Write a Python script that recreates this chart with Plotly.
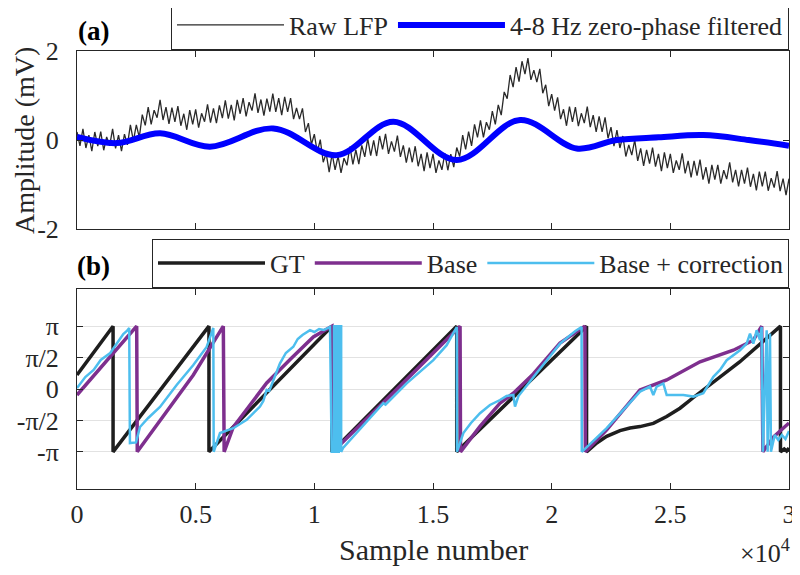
import numpy as np
import plotly.graph_objects as go

P = np.pi

# ---- panel (a): raw LFP, one value every 125 samples ----
raw_step = 125
raw_lfp = [
    0.18, -0.13, 0.25, -0.18, 0.11, -0.25, 0.18, -0.14,
    0.19, -0.23, 0.07, -0.13, 0.25, -0.19, 0.11, -0.25,
    0.13, -0.11, 0.34, -0.02, 0.34, 0.06, 0.57, 0.33,
    0.74, 0.35, 0.67, 0.50, 0.90, 0.45, 0.74, 0.36,
    0.73, 0.41, 0.76, 0.32, 0.59, 0.23, 0.67, 0.35,
    0.69, 0.28, 0.60, 0.41, 0.80, 0.39, 0.71, 0.38,
    0.78, 0.49, 0.89, 0.48, 0.79, 0.44, 0.90, 0.59,
    0.94, 0.53, 0.85, 0.66, 1.05, 0.61, 0.91, 0.55,
    0.93, 0.64, 1.04, 0.63, 0.94, 0.56, 0.97, 0.63,
    0.94, 0.47, 0.72, 0.47, 0.71, 0.18, 0.38, -0.10,
    0.13, -0.27, 0.01, -0.50, -0.30, -0.72, -0.31, -0.67,
    -0.36, -0.74, -0.41, -0.57, -0.15, -0.55, -0.22, -0.54,
    -0.12, -0.38, 0.03, -0.35, -0.01, -0.36, 0.09, -0.21,
    0.14, -0.31, -0.03, -0.26, 0.10, -0.38, -0.12, -0.51,
    -0.17, -0.50, -0.14, -0.59, -0.31, -0.70, -0.28, -0.63,
    -0.31, -0.74, -0.46, -0.67, -0.30, -0.68, -0.32, -0.61,
    -0.17, -0.37, 0.11, -0.21, 0.19, -0.13, 0.35, 0.06,
    0.44, 0.06, 0.40, 0.23, 0.65, 0.35, 0.79, 0.56,
    1.08, 0.93, 1.46, 1.19, 1.64, 1.31, 1.77, 1.48,
    1.84, 1.35, 1.57, 1.30, 1.60, 1.05, 1.24, 0.76,
    1.03, 0.66, 0.96, 0.47, 0.69, 0.32, 0.75, 0.41,
    0.74, 0.31, 0.60, 0.38, 0.75, 0.29, 0.56, 0.18,
    0.53, 0.18, 0.51, 0.04, 0.29, -0.14, 0.22, -0.18,
    0.09, -0.37, -0.11, -0.34, 0.00, -0.47, -0.19, -0.58,
    -0.22, -0.53, -0.17, -0.60, -0.31, -0.70, -0.28, -0.63,
    -0.31, -0.74, -0.46, -0.67, -0.30, -0.75, -0.47, -0.84,
    -0.47, -0.80, -0.44, -0.89, -0.61, -0.98, -0.56, -0.89,
    -0.56, -0.98, -0.68, -0.88, -0.50, -0.95, -0.67, -1.04,
    -0.67, -0.98, -0.62, -1.05, -0.76, -1.13, -0.71, -1.04,
    -0.71, -1.14, -0.86, -1.07, -0.70, -1.15, -0.87, -1.24,
    -0.87,
]
raw_x = np.arange(len(raw_lfp)) * raw_step

filt_x = [0, 1670, 3500, 5600, 8270, 10940, 13330, 16000, 18670, 21050,
          22740, 24500, 26390, 28300, 30000]
filt_y = [0.07, -0.07, 0.15, -0.15, 0.26, -0.34, 0.41, -0.45, 0.45, -0.19,
          0.0, 0.06, 0.11, 0.0, -0.13]

# ---- panel (b): phase ----
gt_x = [0, 1520, 1520, 5560, 5560, 10740, 10740, 16000, 16000, 21470, 21470,
        21900, 22318, 22879, 23300, 23722, 24283, 24846, 25407, 26000, 27920,
        29640, 29640, 29800, 29900, 30000]
gt_y = [0.7, P, -P, P, -P, P, -P, P, -P, P, -P,
        -2.7, -2.37, -2.08, -1.95, -1.88, -1.72, -1.38, -0.96, -0.4, 1.35,
        P, -P, -3.0, -3.1, -2.95]

base_x = [0, 2515, 2540, 3497, 4901, 6165, 6200, 6587, 7992, 9000, 9957,
          10740, 10780, 13400, 16140, 16160, 16980, 17823, 18385, 19227, 20351,
          21400, 21420, 22318, 23020, 23722, 24846, 26250, 27654, 28497, 28850,
          28900, 29350, 30000]
base_y = [-0.3, P, -P, -1.6, 0.7, P, -P, -1.9, 0.3, 1.5, 2.6,
          P, -P, -0.1, P, -P, -1.87, -0.71, -0.21, 0.75, 2.3,
          P, -P, -2.04, -1.04, -0.05, 0.45, 1.36, 1.94, 2.44, P,
          -P, -2.4, -1.7]

corr_x = [0, 350, 700, 1000, 1400, 1700, 1950, 2100, 2200, 2230, 2486, 2654,
          3000, 3497, 4199, 4901, 5463, 5744, 5760, 6025, 6587, 7149, 7711,
          7850, 7992, 8100, 8272, 8553, 8800, 9115, 9300, 9500, 9817, 10000,
          10200, 10400, 10660, 10730, 10830, 10830, 10930, 10930, 11030, 11030,
          11130, 11130, 11210, 11910, 12767, 12907, 13000, 13890, 15014, 15576,
          16000, 16010, 16279, 16600, 16980, 17400, 17823, 18100, 18385, 18455,
          18600, 18900, 19227, 19800, 20351, 21000, 21260, 21270, 22318, 23020,
          23722, 24142, 24283, 24424, 24705, 24846, 25548, 25969, 26390, 26812,
          27093, 27374, 27935, 28216, 28357, 28497, 28638, 28778, 28848, 28900,
          29059, 29100, 29199, 29240, 29400, 29550, 29700, 29850, 30000]
corr_y = [0.05, 0.6, 0.95, 1.45, 1.8, 2.3, 2.75, 2.9, 3.05, -2.7, -2.67, -1.9,
          -1.45, -0.9, 0.2, 1.2, 2.1, 3.05, -P, -2.2, -1.96, -1.54, -0.88,
          -0.6, -0.05, -0.1, 0.45, 1.28, 1.8, 2.11, 2.5, 2.7, 2.94, 2.85,
          3.0, 2.95, 3.1, -P, -P, P, P, -P, -P, P,
          P, -P, -2.95, -2.04, -0.88, -0.71, -0.78, 0.28, 1.44, 2.19,
          3.1, -P, -2.2, -1.7, -1.21, -0.8, -0.55, -0.35, -0.3, -0.88,
          -0.35, 0.1, 0.61, 1.5, 2.27, 2.9, 3.1, -P, -1.96, -1.04,
          -0.13, 0.12, -0.3, 0.12, 0.28, -0.3, -0.3, -0.38, -0.21, 0.61,
          0.95, 1.44, 1.94, 2.27, 2.77, 2.27, 2.94, 2.44, 3.1, -P,
          2.94, -P, 2.77, -P, -2.3, -2.55, -2.3, -2.5, -2.1]

x_ticks = [0, 5000, 10000, 15000, 20000, 25000, 30000]
x_labels = ["0", "0.5", "1", "1.5", "2", "2.5", "3"]
phase_ticks = [-P, -P / 2, 0, P / 2, P]
phase_labels = ["-π", "-π/2", "0", "π/2", "π"]

AX = "#262626"
FONT = "Liberation Serif"

fig = go.Figure()
fig.add_trace(go.Scatter(x=raw_x, y=raw_lfp, mode="lines", name="Raw LFP",
                         line=dict(color="#2a2a2a", width=1.3),
                         xaxis="x", yaxis="y", legend="legend"))
fig.add_trace(go.Scatter(x=filt_x, y=filt_y, mode="lines", name="4-8 Hz zero-phase filtered",
                         line=dict(color="#0000ff", width=6, shape="spline", smoothing=1.0),
                         xaxis="x", yaxis="y", legend="legend"))
fig.add_trace(go.Scatter(x=gt_x, y=gt_y, mode="lines", name="GT",
                         line=dict(color="#1e1e1e", width=3.5),
                         xaxis="x2", yaxis="y2", legend="legend2"))
fig.add_trace(go.Scatter(x=base_x, y=base_y, mode="lines", name="Base",
                         line=dict(color="#7e2f8e", width=3.5),
                         xaxis="x2", yaxis="y2", legend="legend2"))
fig.add_trace(go.Scatter(x=corr_x, y=corr_y, mode="lines", name="Base + correction",
                         line=dict(color="#4dbeee", width=2.5),
                         xaxis="x2", yaxis="y2", legend="legend2"))

axis_common = dict(showline=True, linecolor=AX, linewidth=1, mirror="ticks",
                   ticks="inside", ticklen=6, tickcolor=AX, zeroline=False,
                   tickfont=dict(size=26, color=AX, family=FONT))

# page has an 8px body margin: figure is 792x567 and sits at (8, 8)
# plot area on the page: x 77..789 px, y 51..489 px
H = 438.0
W = 712.0

def py(v):
    return (489 - v) / H

def px(v):
    return (v - 77) / W

def note(text, x, y, size, **kw):
    return dict(text=text, x=px(x), y=py(y), xref="paper", yref="paper",
                xanchor=kw.pop("xanchor", "center"), yanchor="middle",
                showarrow=False, font=dict(size=size, color=kw.pop("color", AX)), **kw)

fig.update_layout(
    width=792, height=567,
    margin=dict(l=69, r=11, t=43, b=86, autoexpand=False),
    paper_bgcolor="white", plot_bgcolor="white",
    font=dict(family=FONT, size=26, color=AX),
    xaxis=dict(domain=[0, 1], anchor="y", range=[0, 30000], tickvals=x_ticks,
               showticklabels=False, showgrid=False, **axis_common),
    yaxis=dict(domain=[py(229), 1], anchor="x", range=[-2, 2], tickvals=[-2, 0, 2],
               ticktext=["-2", "0", "2"], showgrid=False, ticklabelstandoff=12,
               **axis_common),
    xaxis2=dict(domain=[0, 1], anchor="y2", range=[0, 30000], tickvals=x_ticks,
                ticktext=x_labels, showgrid=False, ticklabelstandoff=2, **axis_common),
    yaxis2=dict(domain=[0, py(289)], anchor="x2", range=[-5, 5], tickvals=phase_ticks,
                ticktext=phase_labels, showgrid=True, gridcolor="#e2e2e2", gridwidth=1,
                ticklabelstandoff=12, **axis_common),
    legend=dict(orientation="h", x=1.0, xanchor="right", y=py(25), yanchor="middle",
                bgcolor="white", bordercolor=AX, borderwidth=1, itemwidth=107,
                font=dict(size=26, family=FONT, color=AX)),
    legend2=dict(orientation="h", x=1.0, xanchor="right", y=py(263), yanchor="middle",
                 bgcolor="white", bordercolor=AX, borderwidth=1, itemwidth=107,
                 font=dict(size=26, family=FONT, color=AX)),
    annotations=[
        note("<b>(a)</b>", 93, 31, 27, color="black"),
        note("<b>(b)</b>", 93, 266, 27, color="black"),
        note("Amplitude (mV)", 24, 141, 28, textangle=-90),
        note("Sample number", 433, 549, 30),
        note("×10<sup>4</sup>", 792, 551, 26, xanchor="right"),
    ],
)

fig.write_html("out.html")
